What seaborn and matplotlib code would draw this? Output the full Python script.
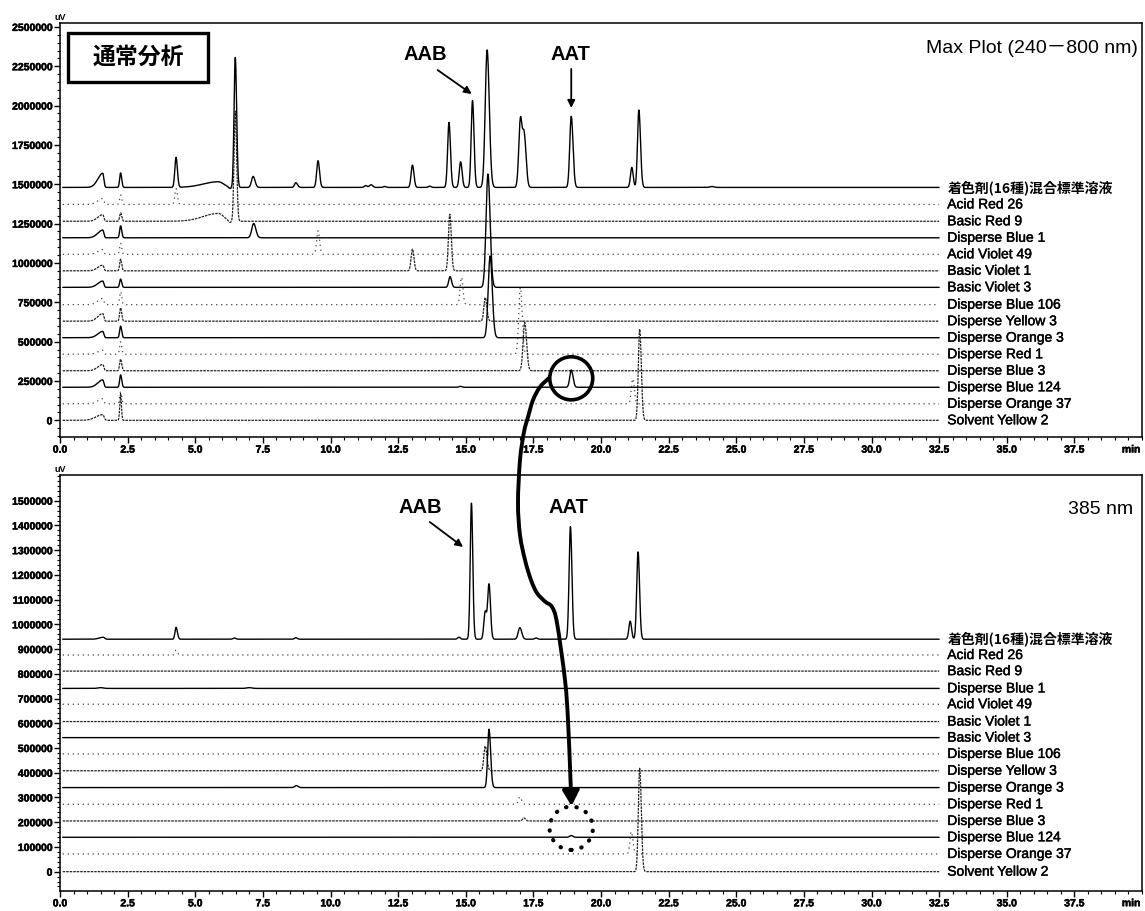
import numpy as np
import matplotlib
matplotlib.use("Agg")
import matplotlib.pyplot as plt
import seaborn as sns
from matplotlib.patches import Ellipse, Rectangle, FancyArrowPatch
from matplotlib.path import Path
from matplotlib.ticker import MultipleLocator, FixedLocator, FuncFormatter, FormatStrFormatter
import matplotlib.patheffects as pe

# ---------------- data ----------------
trace_names = ["着色剤(16種)混合標準溶液", "Acid Red 26", "Basic Red 9", "Disperse Blue 1",
               "Acid Violet 49", "Basic Violet 1", "Basic Violet 3", "Disperse Blue 106",
               "Disperse Yellow 3", "Disperse Orange 3", "Disperse Red 1", "Disperse Blue 3",
               "Disperse Blue 124", "Disperse Orange 37", "Solvent Yellow 2"]

# baseline offset of every trace (uV)
maxplot_baselines = [1480000, 1372000, 1265000, 1160000, 1055000, 950000, 845000, 735000,
                     630000, 525000, 420000, 315000, 210000, 105000, 0]
nm385_baselines = [940000, 876000, 811000, 741000, 677000, 607000, 542000, 476000,
                   408000, 340000, 272500, 205000, 139000, 71600, 0]

# peaks: (retention time min, height uV, sigma left, sigma right)
maxplot_peaks = [
    [(1.58, 90000, .18, .04), (2.24, 92000, .035, .04), (4.29, 190000, .045, .05),
     (5.85, 36000, .55, .2), (6.28, -10000, .05, .05), (6.48, 826000, .045, .05),
     (7.14, 70000, .06, .07), (8.72, 30000, .05, .06), (9.54, 170000, .05, .055),
     (11.3, 12000, .05, .05), (11.5, 17000, .06, .06), (12.0, 6000, .05, .05),
     (13.03, 142000, .05, .055), (13.67, 8000, .05, .05), (14.38, 413000, .05, .055),
     (14.81, 163000, .05, .055), (15.25, 552000, .05, .055), (15.79, 874000, .07, .08),
     (17.02, 425000, .06, .06), (17.16, 330000, .06, .07), (18.9, 452000, .055, .065),
     (21.14, 127000, .05, .05), (21.4, 492000, .05, .06), (24.1, 6000, .08, .08)],
    [(1.58, 38000, .18, .04), (2.24, 60000, .035, .04), (4.29, 100000, .045, .05)],
    [(1.58, 42000, .18, .04), (2.24, 53000, .035, .04), (5.85, 50000, .55, .2),
     (6.28, -12000, .05, .05), (6.48, 700000, .045, .05)],
    [(1.58, 49000, .18, .04), (2.24, 76000, .035, .04), (7.16, 91000, .07, .08)],
    [(1.58, 30000, .18, .04), (2.24, 70000, .035, .04), (9.54, 150000, .05, .055)],
    [(1.58, 36000, .18, .04), (2.24, 74000, .035, .04), (13.03, 138000, .05, .055),
     (14.41, 360000, .05, .055)],
    [(1.58, 40000, .18, .04), (2.24, 53000, .035, .04), (14.42, 68000, .05, .055),
     (15.82, 720000, .07, .08)],
    [(1.58, 40000, .18, .04), (2.24, 83000, .035, .04), (14.84, 174000, .05, .055)],
    [(1.58, 49000, .18, .04), (2.24, 85000, .035, .04), (15.72, 150000, .05, .06)],
    [(1.58, 40000, .18, .04), (2.24, 74000, .035, .04), (15.9, 520000, .07, .08)],
    [(1.58, 25000, .18, .04), (2.24, 79000, .035, .04), (17.02, 424000, .06, .065)],
    [(1.58, 40000, .18, .04), (2.24, 74000, .035, .04), (17.18, 307000, .06, .07)],
    [(1.58, 47000, .18, .04), (2.24, 79000, .035, .04), (14.8, 6000, .05, .05),
     (18.9, 110000, .055, .065)],
    [(1.58, 32000, .18, .04), (2.24, 74000, .035, .04), (21.17, 159000, .05, .06)],
    [(1.58, 36000, .25, .05), (2.24, 170000, .03, .03), (21.43, 580000, .05, .06)],
]

nm385_peaks = [
    [(1.6, 8000, .15, .05), (4.29, 48000, .04, .05), (6.45, 5000, .05, .05),
     (8.72, 6000, .05, .05), (14.75, 8000, .05, .05), (15.21, 550000, .045, .05),
     (15.72, 110000, .05, .05), (15.86, 222000, .05, .055), (17.0, 47000, .06, .07),
     (17.6, 5000, .05, .05), (18.87, 455000, .05, .055), (21.08, 73000, .05, .05),
     (21.37, 353000, .05, .055)],
    [(4.29, 20000, .04, .05)],
    [],
    [(1.5, 3000, .1, .1), (7.0, 3000, .1, .1)],
    [],
    [],
    [],
    [],
    [(15.72, 100000, .05, .06)],
    [(8.74, 8000, .06, .06), (15.86, 236000, .05, .06)],
    [(17.0, 30000, .05, .06)],
    [(17.15, 12000, .05, .06)],
    [(18.9, 7000, .06, .06)],
    [(21.12, 90000, .05, .06)],
    [(21.43, 418000, .05, .06)],
]

maxplot_yticks = list(range(0, 2500001, 250000))
nm385_yticks = list(range(0, 1500001, 100000))
time_ticks = [0.0, 2.5, 5.0, 7.5, 10.0, 12.5, 15.0, 17.5, 20.0, 22.5, 25.0, 27.5, 30.0, 32.5, 35.0, 37.5]

# ---------------- figure ----------------
sns.set_theme(style="white")
plt.rcParams['font.family'] = ['Liberation Sans', 'Noto Sans CJK JP', 'DejaVu Sans']
plt.rcParams['text.color'] = 'black'
plt.rcParams['xtick.color'] = 'black'
plt.rcParams['ytick.color'] = 'black'

W, H = 1145, 911
fig = plt.figure(figsize=(W / 100, H / 100), dpi=100)
ax_top = fig.add_axes([60 / W, 1 - 437 / H, 1082 / W, (437 - 23.3) / H])
ax_bot = fig.add_axes([60 / W, 1 - 890.7 / H, 1082 / W, (890.7 - 475) / H])

t = np.linspace(0.1, 32.5, 3241)


def signal(tt, peaks):
    y = np.zeros_like(tt)
    for rt, h, sl, sr in peaks:
        s = np.where(tt < rt, sl, sr)
        y = y + h * np.exp(-0.5 * ((tt - rt) / s) ** 2)
    return y


line_styles = [dict(color='black', lw=1.0, ls='-'),
               dict(color='#444444', lw=0.9, ls=(0, (1, 3))),
               dict(color='#222222', lw=0.9, ls=(0, (2, 0.8)))]

label_fx = [pe.withStroke(linewidth=0.3, foreground='black')]
tick_fx = [pe.withStroke(linewidth=0.35, foreground='black')]

panels = [(ax_top, maxplot_baselines, maxplot_peaks, maxplot_yticks, (-106000, 2523000), 50000),
          (ax_bot, nm385_baselines, nm385_peaks, nm385_yticks, (-77000, 1604000), 20000)]

for ax, baselines, peaks, yticks, ylim, yminor in panels:
    for i, (name, base, pk) in enumerate(zip(trace_names, baselines, peaks)):
        st = line_styles[i % 3]
        sns.lineplot(x=t, y=base + signal(t, pk), ax=ax, estimator=None, sort=False,
                     color=st['color'], linewidth=st['lw'], linestyle=st['ls'], legend=False)
        if i == 0:
            ax.text(32.8, base, name, va='center', ha='left', fontsize=10,
                    family=['Noto Sans CJK JP'], fontweight='bold')
        else:
            ax.text(32.8, base, name, va='center', ha='left', fontsize=10,
                    path_effects=label_fx)
    ax.set_xlim(0, 40)
    ax.set_ylim(*ylim)
    ax.xaxis.set_major_locator(FixedLocator(time_ticks))
    ax.xaxis.set_minor_locator(MultipleLocator(0.5))
    ax.xaxis.set_major_formatter(FormatStrFormatter('%.1f'))
    ax.yaxis.set_major_locator(FixedLocator(yticks))
    ax.yaxis.set_minor_locator(MultipleLocator(yminor))
    ax.yaxis.set_major_formatter(FuncFormatter(lambda v, p: f"{int(round(v))}"))
    ax.tick_params(axis='both', which='major', direction='out', length=4, width=1,
                   labelsize=7.5, pad=1.5, colors='black', bottom=True, left=True)
    ax.tick_params(axis='both', which='minor', direction='out', length=2.2, width=0.8,
                   bottom=True, left=True)
    for lab in ax.get_xticklabels() + ax.get_yticklabels():
        lab.set_fontweight('bold')
        lab.set_path_effects(tick_fx)
    for sp in ax.spines.values():
        sp.set_color('black')
        sp.set_linewidth(1.1)
    ax.set_xlabel('')
    ax.set_ylabel('')
    ax.text(0.0, 1.003, 'uV', transform=ax.transAxes, ha='center', va='bottom',
            fontsize=6.5, fontweight='bold')
    ax.text(0.99, -0.018, 'min', transform=ax.transAxes, ha='center', va='top',
            fontsize=7.5, fontweight='bold', path_effects=tick_fx)

# ---------------- annotations (top) ----------------
ax_top.text(0.9963, 0.938, 'Max Plot (240－800 nm)', transform=ax_top.transAxes,
            ha='right', va='center', fontsize=14)
ax_top.add_patch(Rectangle((8 / 1082, (437 - 82) / 413.7), 140 / 1082, 49 / 413.7,
                           transform=ax_top.transAxes, fill=False, lw=2.4, ec='black'))
ax_top.text((138 - 60) / 1082, (437 - 57.5) / 413.7, '通常分析', transform=ax_top.transAxes,
            ha='center', va='center', fontsize=16.5, fontweight='bold',
            family=['Noto Sans CJK JP'])
ax_top.text(13.5, 2325000, 'AAB', ha='center', va='center', fontsize=14.5, fontweight='bold')
ax_top.annotate('', xy=(15.22, 2074000), xytext=(13.96, 2226000),
                arrowprops=dict(arrowstyle='-|>', lw=1.3, color='black', mutation_scale=11,
                                shrinkA=0, shrinkB=0))
ax_top.text(18.88, 2325000, 'AAT', ha='center', va='center', fontsize=14.5, fontweight='bold')
ax_top.annotate('', xy=(18.9, 1985000), xytext=(18.9, 2233000),
                arrowprops=dict(arrowstyle='-|>', lw=1.3, color='black', mutation_scale=11,
                                shrinkA=0, shrinkB=0))
ax_top.add_patch(Ellipse((18.9, 267000), width=1.59, height=273600, fill=False,
                         lw=2.6, ec='black'))

# ---------------- annotations (bottom) ----------------
ax_bot.text(0.9917, 0.916, '385 nm', transform=ax_bot.transAxes,
            ha='right', va='center', fontsize=14)
ax_bot.text(13.3, 1471000, 'AAB', ha='center', va='center', fontsize=14.5, fontweight='bold')
ax_bot.annotate('', xy=(14.9, 1313000), xytext=(13.67, 1414000),
                arrowprops=dict(arrowstyle='-|>', lw=1.3, color='black', mutation_scale=11,
                                shrinkA=0, shrinkB=0))
ax_bot.text(18.8, 1471000, 'AAT', ha='center', va='center', fontsize=14.5, fontweight='bold')
dot_circle = Ellipse((18.9, 175500), width=1.6, height=175500, fill=False,
                     lw=3, ec='black', ls=(0, (0.1, 2.4)))
dot_circle.set_capstyle('round')
ax_bot.add_patch(dot_circle)

# ---------------- connecting curved arrow (figure pixels) ----------------
way = [(549, 378), (540, 387), (533, 400), (528, 417), (524, 432), (520, 460), (518, 503),
       (520, 535), (525, 560), (531, 580), (537, 593), (545, 601.5), (552, 607), (557, 623),
       (565, 680), (568, 720), (570.5, 780), (571.5, 806)]
pts = np.array([(x / W, 1 - y / H) for x, y in way])
verts = [tuple(pts[0])]
codes = [Path.MOVETO]
n = len(pts)
for i in range(n - 1):
    p0 = pts[max(i - 1, 0)]
    p1 = pts[i]
    p2 = pts[i + 1]
    p3 = pts[min(i + 2, n - 1)]
    c1 = p1 + (p2 - p0) / 6
    c2 = p2 - (p3 - p1) / 6
    verts += [tuple(c1), tuple(c2), tuple(p2)]
    codes += [Path.CURVE4] * 3
arrow = FancyArrowPatch(path=Path(verts, codes), arrowstyle='-|>,head_length=0.45,head_width=0.25',
                        mutation_scale=20, lw=2.8, color='black',
                        transform=fig.transFigure, shrinkA=0, shrinkB=0)
fig.add_artist(arrow)

fig.savefig('out.png', dpi=100)
